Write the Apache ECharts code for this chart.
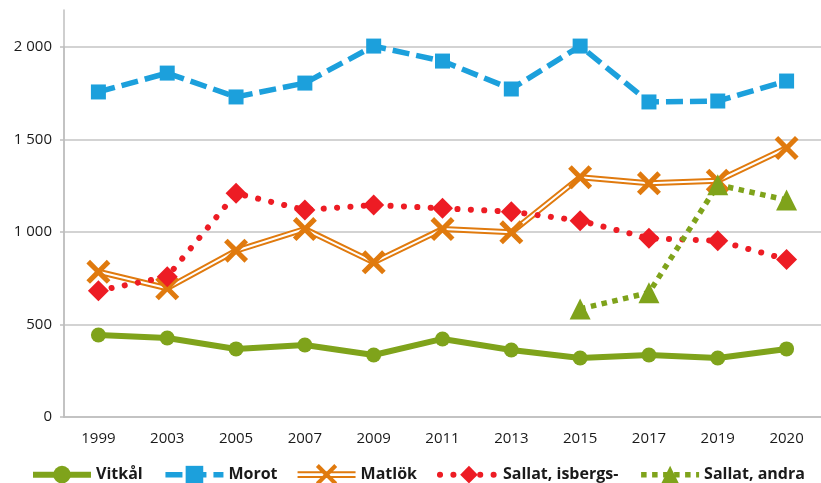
<!DOCTYPE html>
<html>
<head>
<meta charset="utf-8">
<script src="https://cdn.jsdelivr.net/npm/echarts@6/dist/echarts.min.js"></script>
<style>
  html, body { margin: 0; padding: 0; background: #fff; }
  #chart { width: 821px; height: 483px; }
</style>
</head>
<body>
<div id="chart"></div>
<script>
const years = ['1999', '2003', '2005', '2007', '2009', '2011', '2013', '2015', '2017', '2019', '2020']
const vitkal = [443, 427, 368, 389, 335, 422, 362, 319, 335, 319, 368]
const morot = [1757, 1859, 1730, 1805, 2005, 1924, 1773, 2005, 1703, 1708, 1816]
const matlok = [785, 696, 899, 1016, 836, 1016, 998, 1296, 1263, 1277, 1454]
const isbergs = [683, 758, 1209, 1119, 1146, 1128, 1110, 1061, 966, 953, 852]
const andra = [null, null, null, null, null, null, null, 584, 672, 1255, 1173]

const GREEN = '#7fa31b'
const BLUE = '#1ca0dc'
const ORANGE = '#e07a0e'
const RED = '#ed1c24'
const FONT = 'Open Sans'

// X marker and legend icon (double line + X) for Matlök
const xMark = 'path://M3,0 L10,7 L17,0 L20,3 L13,10 L20,17 L17,20 L10,13 L3,20 L0,17 L7,10 L0,3 Z'
const matlokIcon = 'path://M0,7.5h60v2H0z M0,12.5h60v2H0z ' +
  'M19,3 L22,0 L30,8 L38,0 L41,3 L33,11 L41,19 L38,22 L30,14 L22,22 L19,19 L27,11 Z'

const fmt = (v) => String(v).replace(/\B(?=(\d{3})+(?!\d))/g, ' ')

const chart = echarts.init(document.getElementById('chart'))

chart.setOption({
  animation: false,
  textStyle: { fontFamily: FONT },
  grid: [
    { left: 64, right: -10, top: 47, bottom: 66 },
    { left: 64, right: -10, top: 10, bottom: 66 },
  ],
  legend: {
    left: 30,
    top: 464,
    width: 791,
    padding: 0,
    itemWidth: 58,
    itemHeight: 22,
    itemGap: 20,
    lineStyle: { width: 'inherit' },
    textStyle: { fontFamily: FONT, fontWeight: 'bold', fontSize: 16, color: '#1a1a1a' },
    data: [
      { name: 'Vitkål' },
      { name: 'Morot' },
      { name: 'Matlök', icon: matlokIcon },
      { name: 'Sallat, isbergs-' },
      { name: 'Sallat, andra' },
    ],
  },
  xAxis: [
    {
      type: 'category',
      data: years,
      gridIndex: 0,
      axisLine: { lineStyle: { color: '#bfbfbf', width: 1.5 } },
      axisTick: { show: false },
      axisLabel: { color: '#1a1a1a', fontSize: 15, margin: 14, fontFamily: FONT },
    },
    { type: 'category', data: years, gridIndex: 1, show: false },
  ],
  yAxis: [
    {
      type: 'value',
      gridIndex: 0,
      min: 0,
      max: 2000,
      interval: 500,
      axisLine: { show: true, lineStyle: { color: '#bfbfbf', width: 1.5 } },
      axisTick: { show: true, length: 4, lineStyle: { color: '#bfbfbf', width: 1.5 } },
      splitLine: { lineStyle: { color: '#c4c4c4', width: 1.5 } },
      axisLabel: { color: '#1a1a1a', fontSize: 15, margin: 12, fontFamily: FONT, formatter: fmt },
    },
    {
      // only extends the vertical axis line above the top gridline
      type: 'value',
      gridIndex: 1,
      min: 0,
      max: 2200,
      axisLine: { show: true, lineStyle: { color: '#bfbfbf', width: 1.5 } },
      axisTick: { show: false },
      axisLabel: { show: false },
      splitLine: { show: false },
    },
  ],
  series: [
    {
      name: 'Vitkål',
      type: 'line',
      data: vitkal,
      z: 2,
      color: GREEN,
      symbol: 'circle',
      symbolSize: 15,
      lineStyle: { width: 6, color: GREEN },
      itemStyle: { color: GREEN },
    },
    {
      name: 'Morot',
      type: 'line',
      data: morot,
      z: 3,
      clip: false,
      color: BLUE,
      symbol: 'rect',
      symbolSize: 15,
      lineStyle: { width: 5.5, color: BLUE, type: [17, 7] },
      itemStyle: { color: BLUE },
    },
    {
      name: 'Matlök',
      type: 'line',
      data: matlok,
      z: 4,
      color: ORANGE,
      symbol: xMark,
      showSymbol: false,
      lineStyle: { width: 6, color: ORANGE },
      itemStyle: { color: ORANGE },
    },
    {
      name: 'matlok-inner',
      type: 'line',
      data: matlok,
      z: 5,
      silent: true,
      showSymbol: false,
      lineStyle: { width: 2, color: '#ffffff' },
    },
    {
      name: 'matlok-marks',
      type: 'line',
      data: matlok,
      z: 6,
      silent: true,
      symbol: xMark,
      symbolSize: 24,
      lineStyle: { width: 0, opacity: 0 },
      itemStyle: { color: ORANGE },
    },
    {
      name: 'Sallat, isbergs-',
      type: 'line',
      data: isbergs,
      z: 7,
      color: RED,
      symbol: 'diamond',
      symbolSize: 21,
      lineStyle: { width: 6, color: RED, type: [0.1, 13.3], cap: 'round' },
      itemStyle: { color: RED },
    },
    {
      name: 'Sallat, andra',
      type: 'line',
      data: andra,
      z: 8,
      color: GREEN,
      symbol: 'triangle',
      symbolSize: 21,
      lineStyle: { width: 5.5, color: GREEN, type: [5.5, 5.5] },
      itemStyle: { color: GREEN },
    },
  ],
})
</script>
</body>
</html>
